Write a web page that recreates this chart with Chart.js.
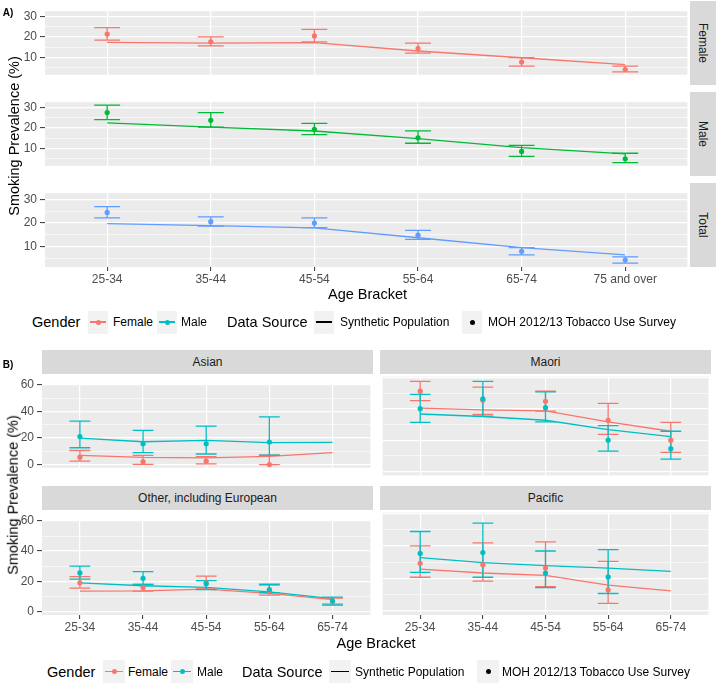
<!DOCTYPE html>
<html>
<head>
<meta charset="utf-8">
<script src="https://cdn.jsdelivr.net/npm/chart.js@4"></script>
<style>
  body { margin: 0; background: #fff; font-family: 'Liberation Sans', Arial, sans-serif; }
  #page { position: relative; width: 716px; height: 684px; overflow: hidden; }
  #page canvas { position: absolute; }
  .txt { position: absolute; white-space: nowrap; line-height: 1; }
  .strip { position: absolute; background: #D9D9D9; color: #1A1A1A; font-size: 12px;
           display: flex; align-items: center; justify-content: center; white-space: nowrap; }
  .key { position: absolute; background: #F2F2F2; }
  .key .ln { position: absolute; left: 2px; right: 2px; top: 50%; height: 1.4px; margin-top: -0.7px; }
  .key .dot { position: absolute; left: 50%; top: 50%; width: 5px; height: 5px; margin: -2.5px 0 0 -2.5px; border-radius: 50%; }
</style>
</head>
<body>
<div id="page"></div>
<script>
// ---- Part A: by gender, all ethnicities ----
const agesA = ['25-34', '35-44', '45-54', '55-64', '65-74', '75 and over'];

const femaleSynth  = [17.3, 17.0, 17.2, 13.1, 9.8, 6.4];
const femaleSurvey = [21.4, 17.6, 20.5, 14.3, 7.7, 4.0];
const femaleLow    = [18.4, 15.6, 17.6, 12.1, 5.7, 2.9];
const femaleHigh   = [24.6, 20.0, 23.7, 17.0, 9.9, 5.7];

const maleSynth  = [22.5, 20.4, 18.5, 14.8, 10.4, 7.3];
const maleSurvey = [27.5, 23.7, 19.3, 15.2, 8.5, 4.9];
const maleLow    = [24.1, 20.4, 16.7, 12.5, 6.1, 3.0];
const maleHigh   = [31.2, 27.5, 22.2, 18.6, 11.5, 7.6];

const totalSynth  = [19.8, 18.9, 18.0, 13.8, 9.6, 6.6];
const totalSurvey = [24.5, 20.6, 20.0, 14.9, 8.1, 4.4];
const totalLow    = [22.2, 18.7, 18.1, 13.1, 6.6, 3.1];
const totalHigh   = [26.9, 22.6, 22.2, 16.9, 9.6, 5.7];

// ---- Part B: by ethnicity and gender ----
const agesB = ['25-34', '35-44', '45-54', '55-64', '65-74'];

const asianFemaleSynth  = [7.0, 5.4, 5.0, 6.2, 9.0];
const asianFemaleSurvey = [5.6, 2.2, 2.6, 0.0, null];
const asianFemaleLow    = [2.6, 0.2, 0.6, 0.0, null];
const asianFemaleHigh   = [10.6, 7.0, 6.0, 7.2, null];
const asianMaleSynth    = [20.0, 17.2, 18.2, 16.6, 16.8];
const asianMaleSurvey   = [21.1, 15.7, 15.7, 17.0, null];
const asianMaleLow      = [12.7, 9.0, 8.0, 7.2, null];
const asianMaleHigh     = [32.7, 25.7, 28.9, 35.9, null];

const maoriFemaleSynth  = [40.4, 39.3, 38.7, 31.7, 25.7];
const maoriFemaleSurvey = [51.2, 45.5, 44.8, 32.7, 20.0];
const maoriFemaleLow    = [45.2, 36.5, 38.5, 23.7, 12.2];
const maoriFemaleHigh   = [57.4, 53.8, 51.2, 43.4, 31.3];
const maoriMaleSynth    = [36.7, 35.1, 32.7, 26.7, 22.3];
const maoriMaleSurvey   = [40.1, 46.4, 40.7, 20.0, 14.6];
const maoriMaleLow      = [31.3, 35.3, 31.7, 13.0, 8.0];
const maoriMaleHigh     = [49.2, 57.4, 50.8, 29.3, 25.7];

const otherFemaleSynth  = [13.5, 13.6, 14.8, 12.0, 7.8];
const otherFemaleSurvey = [19.0, 15.9, 18.9, 13.8, 6.4];
const otherFemaleLow    = [15.4, 13.5, 15.0, 10.8, 4.0];
const otherFemaleHigh   = [23.1, 18.0, 23.4, 17.4, 8.8];
const otherMaleSynth    = [18.9, 17.0, 15.9, 13.0, 8.4];
const otherMaleSurvey   = [25.5, 22.0, 18.4, 14.4, 7.0];
const otherMaleLow      = [21.4, 17.8, 14.4, 12.4, 4.8];
const otherMaleHigh     = [30.0, 26.4, 20.4, 18.0, 9.4];

const pacificFemaleSynth  = [25.8, 23.4, 21.9, 15.9, 12.4];
const pacificFemaleSurvey = [29.4, 28.5, 26.4, 13.0, null];
const pacificFemaleLow    = [20.8, 18.4, 15.0, 4.8, null];
const pacificFemaleHigh   = [40.1, 41.9, 42.5, 30.5, null];
const pacificMaleSynth    = [32.9, 29.8, 27.9, 26.4, 24.4];
const pacificMaleSurvey   = [35.4, 36.0, 23.4, 21.0, null];
const pacificMaleLow      = [23.8, 20.8, 14.4, 10.8, null];
const pacificMaleHigh     = [48.9, 54.0, 36.9, 37.8, null];

const RED = '#F8766D', GREEN = '#00BA38', BLUE = '#619CFF', TEAL = '#00BFC4';

Chart.defaults.font.family = "'Liberation Sans', Arial, sans-serif";
Chart.defaults.color = '#4D4D4D';

const page = document.getElementById('page');

// grey panel background
const panelBg = {
  id: 'panelBg',
  beforeDraw(chart) {
    const { ctx, chartArea: a } = chart;
    ctx.save();
    ctx.fillStyle = '#EBEBEB';
    ctx.fillRect(a.left, a.top, a.width, a.height);
    ctx.restore();
    chart.$barsDone = false;
  }
};

// error bars, drawn just before the first survey point dataset
const errorBars = {
  id: 'errorBars',
  beforeDatasetDraw(chart, args, opts) {
    if (chart.$barsDone || !chart.data.datasets[args.index].survey) return;
    chart.$barsDone = true;
    const { ctx, chartArea: a, scales: { x, y } } = chart;
    ctx.save();
    ctx.beginPath();
    ctx.rect(a.left, a.top, a.width, a.height);
    ctx.clip();
    ctx.lineWidth = 1.3;
    opts.sets.forEach(s => {
      ctx.strokeStyle = s.color;
      s.low.forEach((lo, i) => {
        const hi = s.high[i];
        if (lo == null || hi == null) return;
        const xc = x.getPixelForValue(i);
        const xl = x.getPixelForValue(i - opts.width / 2);
        const xr = x.getPixelForValue(i + opts.width / 2);
        const yl = y.getPixelForValue(lo), yh = y.getPixelForValue(hi);
        ctx.beginPath();
        ctx.moveTo(xl, yh); ctx.lineTo(xr, yh);
        ctx.moveTo(xc, yh); ctx.lineTo(xc, yl);
        ctx.moveTo(xl, yl); ctx.lineTo(xr, yl);
        ctx.stroke();
      });
    });
    ctx.restore();
  }
};

function makePanel(p) {
  const axisW = p.yAxis ? p.axisW : 0;
  const axisH = p.xAxis ? 24 : 0;
  const canvas = document.createElement('canvas');
  canvas.width = p.width + axisW;
  canvas.height = p.height + axisH;
  canvas.style.left = (p.left - axisW) + 'px';
  canvas.style.top = p.top + 'px';
  page.appendChild(canvas);

  const datasets = [];
  p.series.forEach(s => datasets.push({
    data: s.synth.map((v, i) => ({ x: i, y: v })),
    borderColor: s.color, borderWidth: 1.3, pointRadius: 0, fill: false
  }));
  p.series.forEach(s => datasets.push({
    survey: true,
    data: s.survey.map((v, i) => ({ x: i, y: v })).filter(d => d.y != null),
    showLine: false, pointRadius: 2.6, pointHoverRadius: 2.6, pointBorderWidth: 0,
    pointBackgroundColor: s.color, borderColor: s.color
  }));
  datasets.reverse(); // chart.js paints the first dataset last

  const isMajor = v => p.yMajor.includes(v);
  new Chart(canvas, {
    type: 'line',
    data: { datasets },
    options: {
      responsive: false, animation: false, devicePixelRatio: 1,
      layout: { padding: 0 },
      plugins: {
        legend: { display: false }, tooltip: { enabled: false },
        errorBars: { width: p.capWidth, sets: p.series.map(s => ({ color: s.color, low: s.low, high: s.high })) }
      },
      scales: {
        x: {
          type: 'linear', min: -0.6, max: p.cats.length - 0.4,
          afterBuildTicks: s => { s.ticks = p.cats.map((c, i) => ({ value: i })); },
          afterFit: s => { s.height = axisH; },
          ticks: { display: p.xAxis, callback: v => p.cats[v], autoSkip: false, maxRotation: 0,
                   color: '#4D4D4D', font: { size: 12 }, padding: 1 },
          grid: { color: '#FFFFFF', lineWidth: 1.2, drawTicks: p.xAxis, tickLength: 4,
                  tickColor: '#333333', tickWidth: 1 },
          border: { display: false }
        },
        y: {
          min: p.yMin, max: p.yMax,
          afterBuildTicks: s => { s.ticks = p.yTicks.map(v => ({ value: v })); },
          afterFit: s => { s.width = axisW; },
          ticks: { display: p.yAxis, callback: v => isMajor(v) ? String(v) : '', autoSkip: false,
                   color: '#4D4D4D', font: { size: 12 }, padding: 3 },
          grid: {
            color: '#FFFFFF',
            lineWidth: c => (c.tick && isMajor(c.tick.value)) ? 1.2 : 0.6,
            drawTicks: p.yAxis, tickLength: 5, tickWidth: 1,
            tickColor: c => (c.tick && isMajor(c.tick.value)) ? '#333333' : 'rgba(0,0,0,0)'
          },
          border: { display: false }
        }
      }
    },
    plugins: [panelBg, errorBars]
  });
}

function addText(str, cx, cy, size, extra) {
  const d = document.createElement('div');
  d.className = 'txt';
  d.textContent = str;
  d.style.left = cx + 'px';
  d.style.top = cy + 'px';
  d.style.fontSize = size + 'px';
  d.style.transform = 'translate(-50%, -50%)' + (extra && extra.rotate ? ' rotate(' + extra.rotate + 'deg)' : '');
  if (extra && extra.bold) d.style.fontWeight = 'bold';
  if (extra && extra.color) d.style.color = extra.color;
  page.appendChild(d);
  return d;
}

function addLeftText(str, left, cy, size) {
  const d = document.createElement('div');
  d.className = 'txt';
  d.textContent = str;
  d.style.left = left + 'px';
  d.style.top = cy + 'px';
  d.style.fontSize = size + 'px';
  d.style.transform = 'translateY(-50%)';
  page.appendChild(d);
}

function addStrip(str, left, top, w, h, vertical) {
  const d = document.createElement('div');
  d.className = 'strip';
  d.style.left = left + 'px'; d.style.top = top + 'px';
  d.style.width = w + 'px'; d.style.height = h + 'px';
  const s = document.createElement('span');
  s.textContent = str;
  if (vertical) s.style.transform = 'rotate(90deg)';
  d.appendChild(s);
  page.appendChild(d);
}

function addKey(left, cy, w, color, line, dot) {
  const k = document.createElement('div');
  k.className = 'key';
  k.style.left = left + 'px'; k.style.top = (cy - 11.5) + 'px';
  k.style.width = w + 'px'; k.style.height = '23px';
  if (line) { const l = document.createElement('div'); l.className = 'ln'; l.style.background = color; k.appendChild(l); }
  if (dot) { const o = document.createElement('div'); o.className = 'dot'; o.style.background = color; k.appendChild(o); }
  page.appendChild(k);
}

function addLegend(cy, pos, kw) {
  addLeftText('Gender', pos[0], cy, 14.5);
  addKey(pos[1], cy, kw, RED, true, true);
  addLeftText('Female', pos[2], cy, 12);
  addKey(pos[3], cy, kw, TEAL, true, true);
  addLeftText('Male', pos[4], cy, 12);
  addLeftText('Data Source', pos[5], cy, 14.5);
  addKey(pos[6], cy, kw, '#000', true, false);
  addLeftText('Synthetic Population', pos[7], cy, 12);
  addKey(pos[8], cy, kw, '#000', false, true);
  addLeftText('MOH 2012/13 Tobacco Use Survey', pos[9], cy, 12);
}

// ---- Part A panels ----
const yTicksA = [5, 10, 15, 20, 25, 30];
const yMajorA = [10, 20, 30];
const panelsA = [
  { name: 'Female', top: 1, color: RED, synth: femaleSynth, survey: femaleSurvey, low: femaleLow, high: femaleHigh },
  { name: 'Male', top: 92, color: GREEN, synth: maleSynth, survey: maleSurvey, low: maleLow, high: maleHigh },
  { name: 'Total', top: 183, color: BLUE, synth: totalSynth, survey: totalSurvey, low: totalLow, high: totalHigh }
];
panelsA.forEach((pa, k) => {
  makePanel({
    left: 45, top: pa.top, width: 645, height: 84, axisW: 45,
    yAxis: true, xAxis: k === 2, cats: agesA,
    yMin: 1.45, yMax: 32.6, yTicks: yTicksA, yMajor: yMajorA, capWidth: 0.25,
    series: [{ color: pa.color, synth: pa.synth, survey: pa.survey, low: pa.low, high: pa.high }]
  });
  addStrip(pa.name, 690, pa.top, 26, 84, true);
});
addText('A)', 8, 13, 10, { bold: true });
addText('Smoking Prevalence (%)', 13.5, 136, 14.5, { rotate: -90 });
addText('Age Bracket', 367.5, 294, 14.5);
addLegend(322, [32, 88, 113, 157, 181, 227, 314, 340, 462, 488], 20);

// ---- Part B panels ----
const yTicksB = [0, 10, 20, 30, 40, 50, 60];
const yMajorB = [0, 20, 40, 60];
const panelsB = [
  { name: 'Asian', left: 42, top: 374, h: 104, yAxis: true, xAxis: false,
    f: [asianFemaleSynth, asianFemaleSurvey, asianFemaleLow, asianFemaleHigh],
    m: [asianMaleSynth, asianMaleSurvey, asianMaleLow, asianMaleHigh] },
  { name: 'Maori', left: 380, top: 374, h: 104, yAxis: false, xAxis: false,
    f: [maoriFemaleSynth, maoriFemaleSurvey, maoriFemaleLow, maoriFemaleHigh],
    m: [maoriMaleSynth, maoriMaleSurvey, maoriMaleLow, maoriMaleHigh] },
  { name: 'Other, including European', left: 42, top: 510, h: 105, yAxis: true, xAxis: true,
    f: [otherFemaleSynth, otherFemaleSurvey, otherFemaleLow, otherFemaleHigh],
    m: [otherMaleSynth, otherMaleSurvey, otherMaleLow, otherMaleHigh] },
  { name: 'Pacific', left: 380, top: 510, h: 105, yAxis: false, xAxis: true,
    f: [pacificFemaleSynth, pacificFemaleSurvey, pacificFemaleLow, pacificFemaleHigh],
    m: [pacificMaleSynth, pacificMaleSurvey, pacificMaleLow, pacificMaleHigh] }
];
panelsB.forEach(pb => {
  makePanel({
    left: pb.left, top: pb.top, width: 331, height: pb.h, axisW: 42,
    yAxis: pb.yAxis, xAxis: pb.xAxis, cats: agesB,
    yMin: -2.4, yMax: 60.5, yTicks: yTicksB, yMajor: yMajorB, capWidth: 0.33,
    series: [
      { color: RED, synth: pb.f[0], survey: pb.f[1], low: pb.f[2], high: pb.f[3] },
      { color: TEAL, synth: pb.m[0], survey: pb.m[1], low: pb.m[2], high: pb.m[3] }
    ]
  });
  addStrip(pb.name, pb.left, pb.top - 24, 331, 24, false);
});
addText('B)', 8, 365, 10, { bold: true });
addText('Smoking Prevalence (%)', 13, 494.5, 14.5, { rotate: -90 });
addText('Age Bracket', 376, 643, 14.5);
addLegend(671.5, [47, 103, 128, 171, 197, 242, 329, 355, 477, 502], 22);
</script>
</body>
</html>
